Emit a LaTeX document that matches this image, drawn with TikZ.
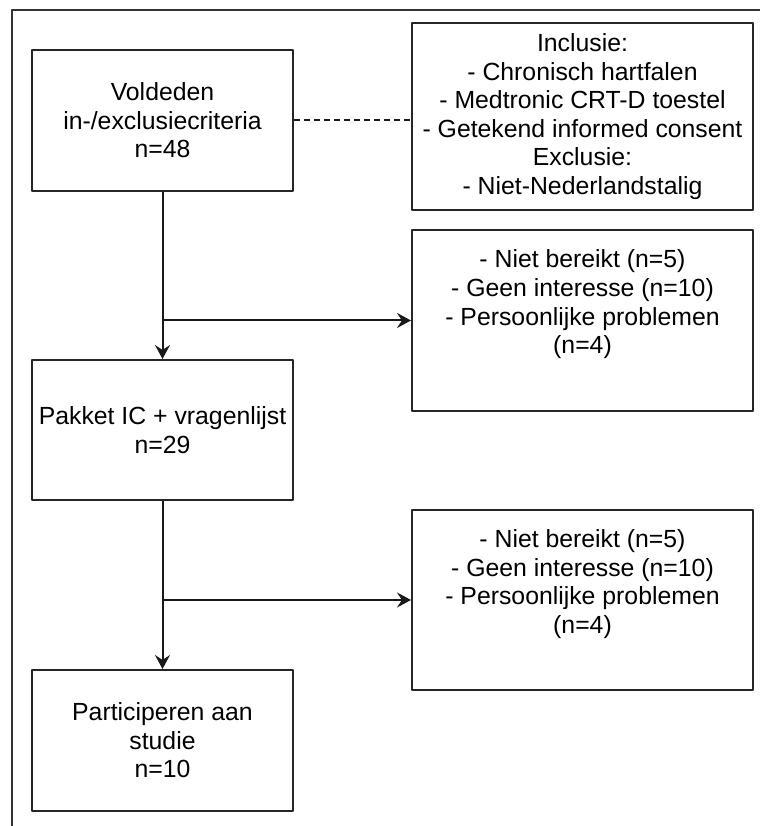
\documentclass[tikz,border=0pt]{standalone}
\usepackage{fontspec}
\setmainfont{Liberation Sans}
\usetikzlibrary{arrows.meta}
\begin{document}
\begin{tikzpicture}[>={Stealth[length=7bp,width=7.5bp,inset=2.5bp]},line join=bevel,
  flowbox/.style={draw=black!85,line width=1bp,align=center,inner sep=0pt,
    font=\fontsize{12.4bp}{14.3bp}\selectfont},
  flowline/.style={black!90,line width=1bp}]
%%
\useasboundingbox (0bp,0bp) rectangle (380bp,413bp);
\draw [black!80,line width=1bp] (6bp,0bp) -- (6bp,408bp) -- (380bp,408bp);
%%
\node (voldeden) at (81.25bp,352.75bp) [flowbox,minimum width=130.5bp,minimum height=70.5bp] {Voldeden\\in-/exclusiecriteria\\n=48};
  \node (criteria) at (291.25bp,354.75bp) [flowbox,minimum width=170.5bp,minimum height=93.5bp] {Inclusie:\\- Chronisch hartfalen\\- Medtronic CRT-D toestel\\- Getekend informed consent\\Exclusie:\\- Niet-Nederlandstalig};
  \node (uitval1) at (291.25bp,252.75bp) [flowbox,minimum width=170.5bp,minimum height=90.5bp] {- Niet bereikt (n=5)\\- Geen interesse (n=10)\\- Persoonlijke problemen\\(n=4)\\\strut};
  \node (pakket) at (81.25bp,198bp) [flowbox,minimum width=130.5bp,minimum height=70bp] {Pakket IC + vragenlijst\\n=29};
  \node (uitval2) at (291.25bp,113bp) [flowbox,minimum width=170.5bp,minimum height=90bp] {- Niet bereikt (n=5)\\- Geen interesse (n=10)\\- Persoonlijke problemen\\(n=4)\\\strut};
  \node (studie) at (81.25bp,42.75bp) [flowbox,minimum width=130.5bp,minimum height=70.5bp] {Participeren aan\\studie\\n=10};
  \coordinate (split1) at (voldeden.south |- uitval1.west);
  \coordinate (split2) at (pakket.south |- uitval2.west);
  \draw [flowline,dash pattern=on 3bp off 2bp] (voldeden.east) -- (voldeden.east -| criteria.west);
  \draw [flowline,->] (voldeden) -- (pakket);
  \draw [flowline,->] (split1) -- (uitval1);
  \draw [flowline,->] (pakket) -- (studie);
  \draw [flowline,->] (split2) -- (uitval2);
%
\end{tikzpicture}
\end{document}
